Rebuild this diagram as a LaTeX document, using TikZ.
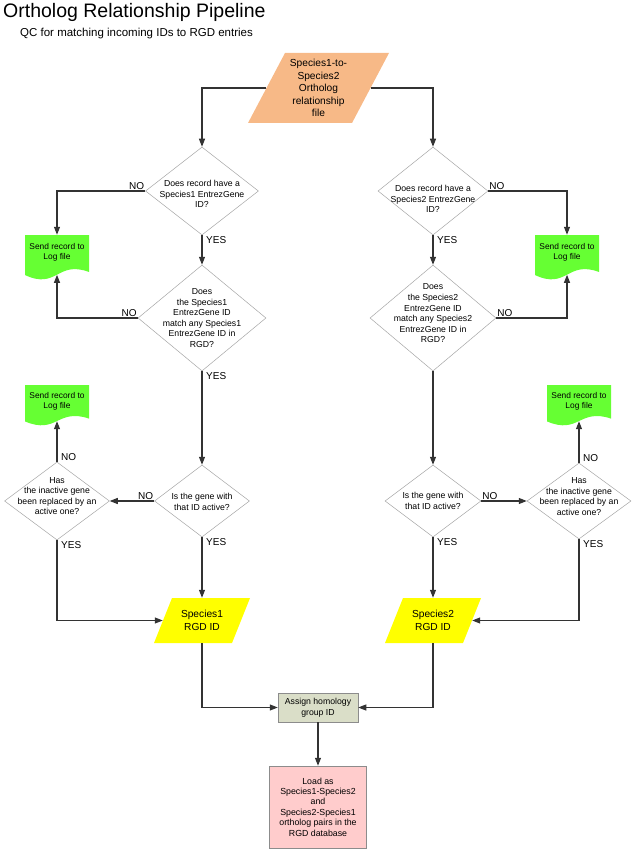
\documentclass[tikz,border=0pt]{standalone}
\usepackage{fontspec}
\setmainfont{Liberation Sans}
\usetikzlibrary{arrows.meta,positioning,shapes.geometric}

\definecolor{filefill}{HTML}{F7B987}
\definecolor{logfill}{HTML}{66FF33}
\definecolor{idfill}{HTML}{FFFF00}
\definecolor{assignfill}{HTML}{DADEC8}
\definecolor{loadfill}{HTML}{FFCCCC}

\tikzset{
  conn/.style={draw=black!80, line width=1.1pt, -{Triangle[length=8pt,width=6pt]}},
  ask/.style={diamond, draw=black!35, line width=0.5pt, fill=white, inner sep=0pt},
  qtext/.style={align=center, font=\fontsize{8.7}{10.6}\selectfont},
  ans/.style={font=\fontsize{10}{12}\selectfont, inner sep=1pt},
  datafile/.style 2 args={rectangle, inner sep=0pt, align=center,
    font=\fontsize{10.2}{12.4}\selectfont,
    path picture={
      \fill[#1] ([xshift=#2]path picture bounding box.north west)
        -- (path picture bounding box.north east)
        -- ([xshift=-#2]path picture bounding box.south east)
        -- (path picture bounding box.south west) -- cycle;}},
  logfile/.style={rectangle, inner sep=0pt, minimum width=64pt, minimum height=#1,
    path picture={
      \fill[logfill] (path picture bounding box.north west)
        -- (path picture bounding box.north east)
        -- ([yshift=0.16*#1]path picture bounding box.south east)
        .. controls ([xshift=-32pt,yshift=0.43*#1]path picture bounding box.south east)
        and ([xshift=32pt,yshift=-0.25*#1]path picture bounding box.south west)
        .. ([yshift=0.09*#1]path picture bounding box.south west) -- cycle;}},
  logtext/.style={align=center, font=\fontsize{8.4}{10}\selectfont},
  stepbox/.style={rectangle, draw=black!45, line width=0.5pt, align=center, inner sep=2pt}
}

\begin{document}
\begin{tikzpicture}[x=1pt, y=-1pt]
  \useasboundingbox (0,0) rectangle (634,853);

  % heading
  \node[anchor=base west, inner sep=0pt, font=\fontsize{19.5}{23}\selectfont] (title) at (3,18) {Ortholog Relationship Pipeline};
  \node[anchor=base west, inner sep=0pt, font=\fontsize{11.5}{14}\selectfont] (subtitle) at (20,36.5) {QC for matching incoming IDs to RGD entries};

  % input file
  \node[datafile={filefill}{37pt}, minimum width=141pt, minimum height=70pt] (file) at (318.5,88)
    {Species1-to-\\Species2\\Ortholog\\relationship\\file};

  % species 1 side
  \node[ask, minimum width=113pt, minimum height=88pt,
    label={[qtext,yshift=-3pt]center:{Does record have a\\Species1 EntrezGene\\ID?}}] (q1) at (202,191) {};
  \node[ask, minimum width=128pt, minimum height=106pt,
    label={[qtext]center:{Does\\the Species1\\EntrezGene ID\\match any Species1\\EntrezGene ID in\\RGD?}}] (q2) at (202,318) {};
  \node[ask, minimum width=95pt, minimum height=72pt,
    label={[qtext,yshift=-1pt]center:{Is the gene with\\that ID active?}}] (q3) at (202,501) {};
  \node[ask, minimum width=105pt, minimum height=78pt,
    label={[qtext,yshift=5pt]center:{Has\\the inactive gene\\been replaced by an\\active one?}}] (q4) at (57,501) {};
  \node[logfile=44pt, label={[logtext,yshift=4.4pt]center:{Send record to\\Log file}}] (log1) at (57,257) {};
  \node[logfile=40pt, label={[logtext,yshift=4pt]center:{Send record to\\Log file}}] (log2) at (57,405) {};
  \node[datafile={idfill}{18pt}, minimum width=96pt, minimum height=45pt] (sp1) at (202,620.5) {Species1\\RGD ID};

  % species 2 side
  \node[ask, minimum width=110pt, minimum height=88pt,
    label={[qtext,yshift=-8pt]center:{Does record have a\\Species2 EntrezGene\\ID?}}] (r1) at (433,191) {};
  \node[ask, minimum width=126pt, minimum height=106pt,
    label={[qtext,yshift=4.5pt]center:{Does\\the Species2\\EntrezGene ID\\match any Species2\\EntrezGene ID in\\RGD?}}] (r2) at (433,318) {};
  \node[ask, minimum width=96pt, minimum height=72pt,
    label={[qtext]center:{Is the gene with\\that ID active?}}] (r3) at (433,501) {};
  \node[ask, minimum width=104pt, minimum height=76pt,
    label={[qtext,yshift=4.5pt]center:{Has\\the inactive gene\\been replaced by an\\active one?}}] (r4) at (579,501) {};
  \node[logfile=44pt, label={[logtext,yshift=4.4pt]center:{Send record to\\Log file}}] (rlog1) at (567,257) {};
  \node[logfile=40pt, label={[logtext,yshift=4pt]center:{Send record to\\Log file}}] (rlog2) at (579,405) {};
  \node[datafile={idfill}{18pt}, minimum width=96pt, minimum height=45pt] (sp2) at (433,620.5) {Species2\\RGD ID};

  % merge
  \node[stepbox, fill=assignfill, minimum width=80pt, minimum height=29pt,
    font=\fontsize{8.7}{10.5}\selectfont] (assign) at (318,707.5) {Assign homology\\group ID};
  \node[stepbox, fill=loadfill, minimum width=97pt, minimum height=82pt,
    font=\fontsize{8.8}{10.4}\selectfont] (load) at (318,807)
    {Load as\\Species1-Species2\\and\\Species2-Species1\\ortholog pairs in the\\RGD database};

  % answers
  \node[ans, anchor=south east] (q1no) at (q1.west) {NO};
  \node[ans, anchor=north west, xshift=3pt] (q1yes) at (q1.south) {YES};
  \node[ans, anchor=south east] (q2no) at (q2.west) {NO};
  \node[ans, anchor=north west, xshift=3pt] (q2yes) at (q2.south) {YES};
  \node[ans, anchor=south east] (q3no) at (q3.west) {NO};
  \node[ans, anchor=north west, xshift=3pt] (q3yes) at (q3.south) {YES};
  \node[ans, anchor=south west, xshift=3pt] (q4no) at (q4.north) {NO};
  \node[ans, anchor=north west, xshift=3pt] (q4yes) at (q4.south) {YES};
  \node[ans, anchor=south west] (r1no) at (r1.east) {NO};
  \node[ans, anchor=north west, xshift=3pt] (r1yes) at (r1.south) {YES};
  \node[ans, anchor=south west] (r2no) at (r2.east) {NO};
  \node[ans, anchor=south west] (r3no) at (r3.east) {NO};
  \node[ans, anchor=north west, xshift=3pt] (r3yes) at (r3.south) {YES};
  \node[ans, anchor=south west, xshift=3pt] (r4no) at (r4.north) {NO};
  \node[ans, anchor=north west, xshift=3pt] (r4yes) at (r4.south) {YES};

  % connectors
  \draw[conn] ([xshift=18.5pt]file.west) -| (q1.north);
  \draw[conn] ([xshift=-18.5pt]file.east) -| (r1.north);

  \draw[conn] (q1.west) -| (log1.north);
  \draw[conn] (q1.south) -- (q2.north);
  \draw[conn] (q2.west) -| ([yshift=4.4pt]log1.south);
  \draw[conn] (q2.south) -- (q3.north);
  \draw[conn] (q3.west) -- (q4.east);
  \draw[conn] (q4.north) -- ([yshift=4pt]log2.south);
  \draw[conn] (q3.south) -- (sp1.north);
  \draw[conn] (q4.south) |- ([xshift=9pt]sp1.west);

  \draw[conn] (r1.east) -| (rlog1.north);
  \draw[conn] (r1.south) -- (r2.north);
  \draw[conn] (r2.east) -| ([yshift=4.4pt]rlog1.south);
  \draw[conn] (r2.south) -- (r3.north);
  \draw[conn] (r3.east) -- (r4.west);
  \draw[conn] (r4.north) -- ([yshift=4pt]rlog2.south);
  \draw[conn] (r3.south) -- (sp2.north);
  \draw[conn] (r4.south) |- ([xshift=-9pt]sp2.east);

  \draw[conn] (sp1.south) |- (assign.west);
  \draw[conn] (sp2.south) |- (assign.east);
  \draw[conn] (assign.south) -- (load.north);
\end{tikzpicture}
\end{document}
